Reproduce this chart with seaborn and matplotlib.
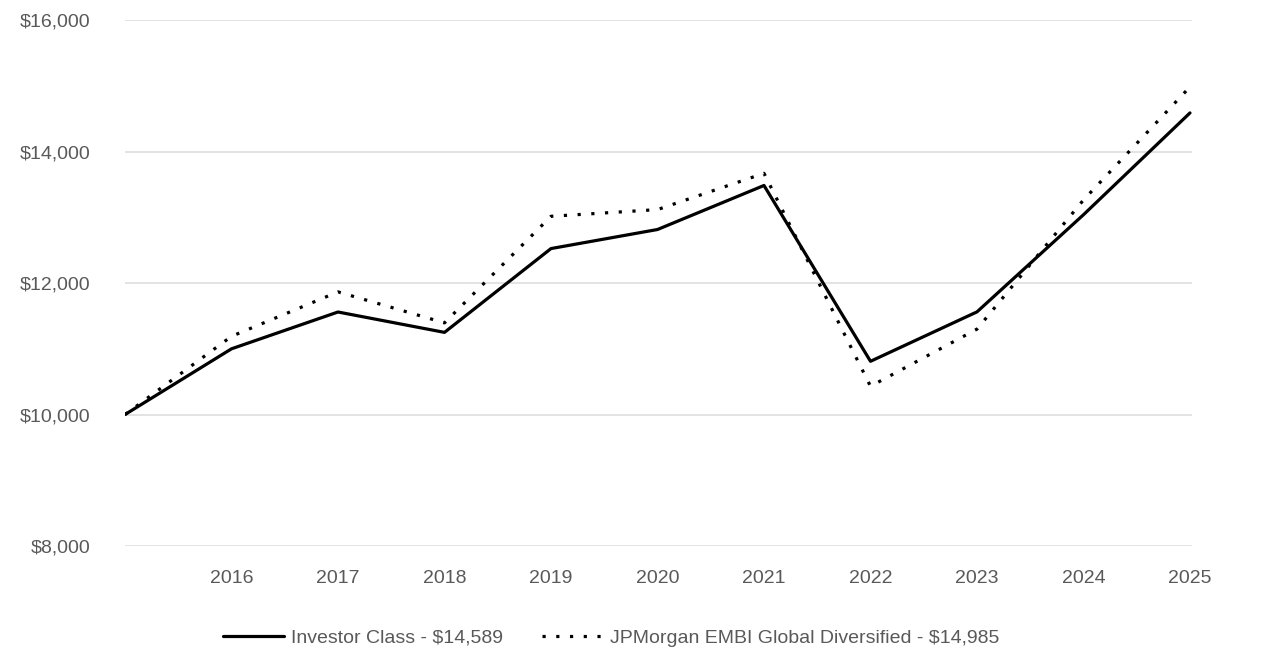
import matplotlib
matplotlib.use("Agg")
import matplotlib.pyplot as plt
from matplotlib import font_manager
from matplotlib.ticker import FuncFormatter
import seaborn as sns
import pandas as pd

years = [2015, 2016, 2017, 2018, 2019, 2020, 2021, 2022, 2023, 2024, 2025]
investor = [10000, 11000, 11560, 11250, 12525, 12815, 13485, 10810, 11562, 13040, 14589]
index_vals = [10000, 11190, 11866, 11395, 13016, 13118, 13670, 10430, 11300, 13265, 14985]
series_names = ["Investor Class - $14,589", "JPMorgan EMBI Global Diversified - $14,985"]
xticks = list(range(2016, 2026))
yticks = [8000, 10000, 12000, 14000, 16000]

sns.set_theme(style="white")
names = {f.name for f in font_manager.fontManager.ttflist}
fam = [f for f in ["Liberation Sans Narrow", "Liberation Sans", "DejaVu Sans"] if f in names]
plt.rcParams["font.family"] = fam

fig = plt.figure(figsize=(12.86, 6.72), dpi=100)
ax = fig.add_axes([0.0972, 0.1875, 0.8298, 0.7825])

df1 = pd.DataFrame({"year": years, "value": investor})
df2 = pd.DataFrame({"year": years, "value": index_vals})
sns.lineplot(data=df1, x="year", y="value", ax=ax, color="black", linewidth=2.3,
             label=series_names[0])
sns.lineplot(data=df2, x="year", y="value", ax=ax, color="black", linewidth=2.3,
             linestyle=(0, (1, 3.3)), label=series_names[1])

ax.set_xlim(2015, 2025.02)
ax.set_ylim(8000, 16000)
ax.set_xticks(xticks)
ax.set_xticklabels([str(y) for y in xticks])
ax.set_yticks(yticks)
ax.yaxis.set_major_formatter(FuncFormatter(lambda v, p: f"${v:,.0f}"))
ax.grid(axis="y", color="#dedede", linewidth=1.2)
ax.grid(axis="x", visible=False)
for s in ax.spines.values():
    s.set_visible(False)
ax.tick_params(axis="both", length=0, labelsize=14, colors="#595959")
ax.tick_params(axis="y", pad=25)
ax.tick_params(axis="x", pad=17)
ax.set_xlabel("")
ax.set_ylabel("")

leg = ax.legend(loc="upper center", bbox_to_anchor=(0.456, -0.125), ncol=2, frameon=False,
                fontsize=14, handlelength=3.1, columnspacing=2.0, handletextpad=0.4)
for t in leg.get_texts():
    t.set_color("#595959")

fig.savefig("out.png", dpi=100, facecolor="white")
